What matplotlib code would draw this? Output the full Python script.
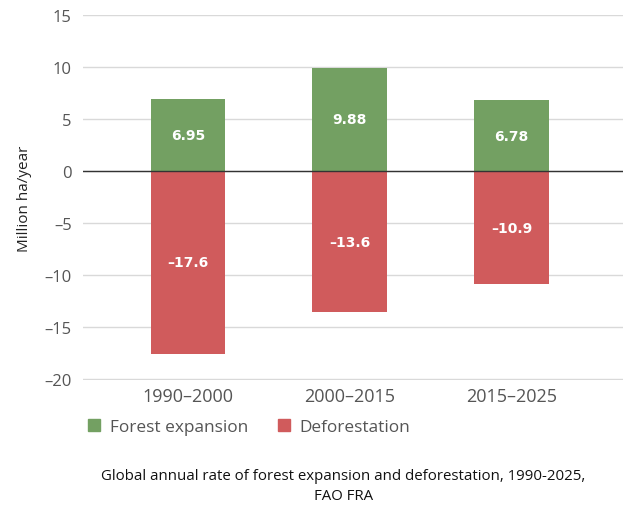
import numpy as np
import matplotlib.pyplot as plt
from matplotlib.patches import Patch

periodos = ["1990–2000", "2000–2015", "2015–2025"]
expansao = [6.95, 9.88, 6.78]
desmatamento = [-17.6, -13.6, -10.9]
rotulos_expansao = ["6.95", "9.88", "6.78"]
rotulos_desmatamento = ["–17.6", "–13.6", "–10.9"]

verde = "#73a062"
vermelho = "#d05b5c"

plt.rcParams['font.family'] = ['Open Sans', 'DejaVu Sans']

fig = plt.figure(figsize=(6.23, 5.10), dpi=100)
ax = fig.add_axes([0.133, 0.253, 0.867, 0.716])

x = np.arange(len(periodos))
largura = 0.46
ax.bar(x, expansao, largura, color=verde, zorder=3)
ax.bar(x, desmatamento, largura, color=vermelho, zorder=3)

for xi, v, t in zip(x, expansao, rotulos_expansao):
    ax.text(xi, v / 2, t, ha="center", va="center", color="white",
            fontsize=10, fontweight="bold", family="DejaVu Sans", zorder=4)
for xi, v, t in zip(x, desmatamento, rotulos_desmatamento):
    ax.text(xi, v / 2, t, ha="center", va="center", color="white",
            fontsize=10, fontweight="bold", family="DejaVu Sans", zorder=4)

ax.set_ylim(-20.1, 15)
ax.set_xlim(-0.65, 2.69)
ax.set_yticks(range(-20, 16, 5))
ax.set_yticklabels([str(v).replace("-", "–") if v < 0 else str(v) for v in range(-20, 16, 5)])
ax.set_xticks(x)
ax.set_xticklabels(periodos)
ax.yaxis.grid(True, color="#d9d9d9", linewidth=1, zorder=0)
ax.axhline(0, color="#333333", linewidth=1, zorder=5)
for s in ax.spines.values():
    s.set_visible(False)
ax.tick_params(axis="both", length=0, colors="#555555")
ax.tick_params(axis="y", pad=8, labelsize=12)
ax.tick_params(axis="x", pad=5, labelsize=13)
ax.set_ylabel("Million ha/year", fontsize=11, color="#222222", labelpad=9)

handles = [Patch(color=verde, label="Forest expansion"),
           Patch(color=vermelho, label="Deforestation")]
fig.legend(handles=handles, loc="center left", bbox_to_anchor=(0.117, 0.16),
           ncol=2, frameon=False, fontsize=12.4, handlelength=0.7, handleheight=0.7,
           columnspacing=1.75, handletextpad=0.55, labelcolor="#555555")

fig.text(0.551, 0.046, "Global annual rate of forest expansion and deforestation, 1990-2025,\nFAO FRA",
         ha="center", va="center", fontsize=10.8, color="#111111", linespacing=1.45)

fig.savefig("out.png", dpi=100)
